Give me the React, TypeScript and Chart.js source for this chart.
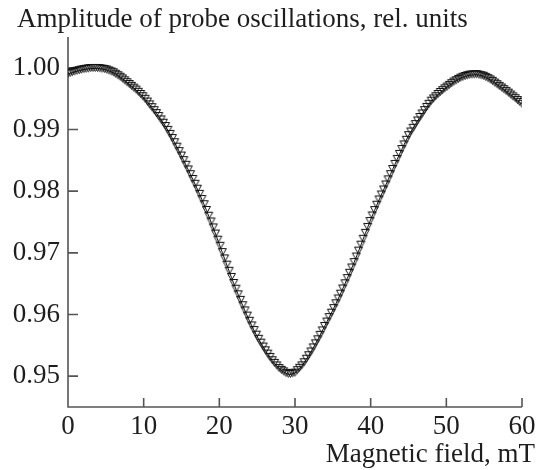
import React, { useEffect, useRef } from "react";
import { Chart, registerables } from "chart.js";

Chart.register(...registerables);

// Magnetic field, mT
const fieldMT = [
  0, 0.3, 0.6, 0.9, 1.2, 1.5, 1.8, 2.1, 2.4, 2.7,
  3, 3.3, 3.6, 3.9, 4.2, 4.5, 4.8, 5.1, 5.4, 5.7,
  6, 6.3, 6.6, 6.9, 7.2, 7.5, 7.8, 8.1, 8.4, 8.7,
  9, 9.3, 9.6, 9.9, 10.2, 10.5, 10.8, 11.1, 11.4, 11.7,
  12, 12.3, 12.6, 12.9, 13.2, 13.5, 13.8, 14.1, 14.4, 14.7,
  15, 15.3, 15.6, 15.9, 16.2, 16.5, 16.8, 17.1, 17.4, 17.7,
  18, 18.3, 18.6, 18.9, 19.2, 19.5, 19.8, 20.1, 20.4, 20.7,
  21, 21.3, 21.6, 21.9, 22.2, 22.5, 22.8, 23.1, 23.4, 23.7,
  24, 24.3, 24.6, 24.9, 25.2, 25.5, 25.8, 26.1, 26.4, 26.7,
  27, 27.3, 27.6, 27.9, 28.2, 28.5, 28.8, 29.1, 29.4, 29.7,
  30, 30.3, 30.6, 30.9, 31.2, 31.5, 31.8, 32.1, 32.4, 32.7,
  33, 33.3, 33.6, 33.9, 34.2, 34.5, 34.8, 35.1, 35.4, 35.7,
  36, 36.3, 36.6, 36.9, 37.2, 37.5, 37.8, 38.1, 38.4, 38.7,
  39, 39.3, 39.6, 39.9, 40.2, 40.5, 40.8, 41.1, 41.4, 41.7,
  42, 42.3, 42.6, 42.9, 43.2, 43.5, 43.8, 44.1, 44.4, 44.7,
  45, 45.3, 45.6, 45.9, 46.2, 46.5, 46.8, 47.1, 47.4, 47.7,
  48, 48.3, 48.6, 48.9, 49.2, 49.5, 49.8, 50.1, 50.4, 50.7,
  51, 51.3, 51.6, 51.9, 52.2, 52.5, 52.8, 53.1, 53.4, 53.7,
  54, 54.3, 54.6, 54.9, 55.2, 55.5, 55.8, 56.1, 56.4, 56.7,
  57, 57.3, 57.6, 57.9, 58.2, 58.5, 58.8, 59.1, 59.4, 59.7,
  60,
];

// Amplitude of probe oscillations, rel. units
const amplitude = [
  0.99900, 0.99912, 0.99924, 0.99936, 0.99946, 0.99955, 0.99964, 0.99972, 0.99978, 0.99984,
  0.99990, 0.99990, 0.99991, 0.99990, 0.99986, 0.99980, 0.99974, 0.99965, 0.99950, 0.99935,
  0.99920, 0.99896, 0.99872, 0.99848, 0.99820, 0.99790, 0.99760, 0.99730, 0.99700, 0.99670,
  0.99640, 0.99604, 0.99568, 0.99532, 0.99490, 0.99445, 0.99400, 0.99354, 0.99306, 0.99258,
  0.99210, 0.99156, 0.99102, 0.99048, 0.98986, 0.98920, 0.98854, 0.98786, 0.98714, 0.98642,
  0.98570, 0.98495, 0.98420, 0.98345, 0.98268, 0.98190, 0.98112, 0.98032, 0.97948, 0.97864,
  0.97780, 0.97687, 0.97594, 0.97501, 0.97404, 0.97305, 0.97206, 0.97106, 0.97004, 0.96902,
  0.96800, 0.96701, 0.96602, 0.96503, 0.96410, 0.96320, 0.96230, 0.96142, 0.96058, 0.95974,
  0.95890, 0.95815, 0.95740, 0.95665, 0.95598, 0.95535, 0.95472, 0.95412, 0.95358, 0.95304,
  0.95250, 0.95208, 0.95166, 0.95124, 0.95094, 0.95070, 0.95046, 0.95030, 0.95030, 0.95040,
  0.95050, 0.95089, 0.95128, 0.95167, 0.95218, 0.95275, 0.95332, 0.95392, 0.95458, 0.95524,
  0.95590, 0.95662, 0.95734, 0.95806, 0.95878, 0.95950, 0.96022, 0.96096, 0.96174, 0.96252,
  0.96330, 0.96414, 0.96498, 0.96582, 0.96668, 0.96755, 0.96842, 0.96932, 0.97028, 0.97124,
  0.97220, 0.97316, 0.97412, 0.97508, 0.97598, 0.97685, 0.97772, 0.97857, 0.97938, 0.98019,
  0.98100, 0.98184, 0.98268, 0.98352, 0.98434, 0.98515, 0.98596, 0.98675, 0.98750, 0.98825,
  0.98900, 0.98960, 0.99020, 0.99080, 0.99138, 0.99195, 0.99252, 0.99307, 0.99358, 0.99409,
  0.99460, 0.99496, 0.99532, 0.99568, 0.99600, 0.99630, 0.99660, 0.99689, 0.99716, 0.99743,
  0.99770, 0.99791, 0.99812, 0.99833, 0.99848, 0.99860, 0.99872, 0.99881, 0.99884, 0.99887,
  0.99890, 0.99881, 0.99872, 0.99863, 0.99846, 0.99825, 0.99804, 0.99781, 0.99754, 0.99727,
  0.99700, 0.99673, 0.99646, 0.99619, 0.99590, 0.99560, 0.99530, 0.99500, 0.99470, 0.99440,
  0.99410,
];

const xTickValues = [0, 10, 20, 30, 40, 50, 60];
const xTickLabels = ["0", "10", "20", "30", "40", "50", "60"];
const yTickValues = [0.95, 0.96, 0.97, 0.98, 0.99, 1.0];
const yTickLabels = ["0.95", "0.96", "0.97", "0.98", "0.99", "1.00"];

const titleText = "Amplitude of probe oscillations, rel. units";
const xTitleText = "Magnetic field, mT";

const FONT = '"Liberation Serif", "Times New Roman", serif';
const FONT_SIZE = 27;
const TEXT_COLOR = "#1e1e1e";
const AXIS_COLOR = "#555555";

function makeMarker(): HTMLCanvasElement {
  const c = document.createElement("canvas");
  c.width = 11;
  c.height = 15;
  const g = c.getContext("2d")!;
  g.strokeStyle = "#111111";
  g.lineWidth = 1;
  const cx = 5.5;
  const cy = 7.5;
  g.beginPath();
  g.moveTo(cx - 4, cy - 4);
  g.lineTo(cx + 4, cy - 4);
  g.lineTo(cx, cy + 3);
  g.closePath();
  g.stroke();
  return c;
}

const axesPlugin = {
  id: "inwardAxes",
  beforeDatasetsDraw(chart: any) {
    const { ctx, chartArea: a, scales } = chart;
    const x = scales.x;
    const y = scales.y;
    ctx.save();
    ctx.strokeStyle = AXIS_COLOR;
    ctx.lineWidth = 1.6;
    ctx.beginPath();
    ctx.moveTo(a.left, a.top);
    ctx.lineTo(a.left, a.bottom);
    ctx.lineTo(a.right, a.bottom);
    ctx.stroke();
    ctx.beginPath();
    xTickValues.forEach((v) => {
      if (v === 0) return;
      const px = x.getPixelForValue(v);
      ctx.moveTo(px, a.bottom);
      ctx.lineTo(px, a.bottom - 9);
    });
    yTickValues.forEach((v) => {
      const py = y.getPixelForValue(v);
      ctx.moveTo(a.left, py);
      ctx.lineTo(a.left + 10, py);
    });
    ctx.stroke();
    ctx.restore();
  },
  afterDraw(chart: any) {
    const { ctx } = chart;
    ctx.save();
    ctx.fillStyle = TEXT_COLOR;
    ctx.font = `${FONT_SIZE}px ${FONT}`;
    ctx.textBaseline = "alphabetic";
    ctx.textAlign = "left";
    ctx.fillText(titleText, 17, 27);
    ctx.textAlign = "right";
    ctx.fillText(xTitleText, 535, 462);
    ctx.restore();
  },
};

export default function App() {
  const canvasRef = useRef<HTMLCanvasElement | null>(null);

  useEffect(() => {
    document.body.style.margin = "0";
    const canvas = canvasRef.current;
    if (!canvas) return;
    const marker = makeMarker();
    const chart = new Chart(canvas, {
      type: "scatter",
      data: {
        datasets: [
          {
            label: "amplitude",
            data: fieldMT.map((f, i) => ({ x: f, y: amplitude[i] })),
            showLine: true,
            borderColor: "#111111",
            borderWidth: 1,
            backgroundColor: "transparent",
            pointStyle: marker as any,
            pointRadius: 4,
            pointHoverRadius: 4,
            tension: 0,
            fill: false,
          },
        ],
      },
      options: {
        animation: false,
        responsive: false,
        devicePixelRatio: 1,
        events: [],
        layout: { padding: { top: 37, right: 17, left: 0, bottom: 0 } },
        plugins: {
          legend: { display: false },
          tooltip: { enabled: false },
          title: { display: false },
        },
        scales: {
          x: {
            type: "linear",
            min: 0,
            max: 60,
            grid: { display: false, drawTicks: false },
            border: { display: false },
            ticks: {
              font: { family: FONT, size: FONT_SIZE },
              color: TEXT_COLOR,
              padding: 4,
              maxRotation: 0,
              autoSkip: false,
              callback: (v: any) => xTickLabels[xTickValues.indexOf(Number(v))],
            },
            afterBuildTicks: (s: any) => {
              s.ticks = xTickValues.map((v) => ({ value: v }));
            },
            afterFit: (s: any) => {
              s.height = 470 - 407;
              s.paddingLeft = 0;
              s.paddingRight = 0;
            },
          },
          y: {
            type: "linear",
            min: 0.945,
            max: 1.005,
            grid: { display: false, drawTicks: false },
            border: { display: false },
            ticks: {
              font: { family: FONT, size: FONT_SIZE },
              color: TEXT_COLOR,
              padding: 8,
              autoSkip: false,
              callback: (v: any) => {
                const i = yTickValues.findIndex((t) => Math.abs(t - Number(v)) < 1e-9);
                return i >= 0 ? yTickLabels[i] : "";
              },
            },
            afterBuildTicks: (s: any) => {
              s.ticks = yTickValues.map((v) => ({ value: v }));
            },
            afterFit: (s: any) => {
              s.width = 68;
              s.paddingTop = 0;
              s.paddingBottom = 0;
            },
          },
        },
      },
      plugins: [axesPlugin],
    });
    return () => {
      chart.destroy();
    };
  }, []);

  return (
    <div style={{ width: 539, height: 470, background: "#ffffff" }}>
      <canvas ref={canvasRef} width={539} height={470} style={{ display: "block" }} />
    </div>
  );
}
